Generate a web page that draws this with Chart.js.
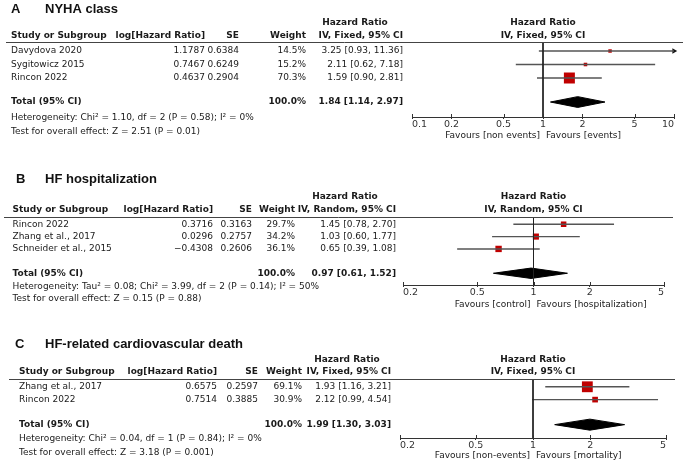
<!DOCTYPE html>
<html>
<head>
<meta charset="utf-8">
<script src="https://cdn.jsdelivr.net/npm/chart.js@4/dist/chart.umd.min.js"></script>
<style>
  html, body { margin: 0; padding: 0; background: #fff; }
  #wrap { position: relative; width: 685px; height: 464px; overflow: hidden; }
  canvas { position: absolute; left: 0; }
</style>
</head>
<body>
<div id="wrap">
  <canvas id="chartA" width="685" height="140" style="top:0px"></canvas>
  <canvas id="chartB" width="685" height="170" style="top:140px"></canvas>
  <canvas id="chartC" width="685" height="154" style="top:310px"></canvas>
</div>
<script>
// ---- Panel A: NYHA class ----
const studiesA = ['Davydova 2020', 'Sygitowicz 2015', 'Rincon 2022'];
const logHrA = ['1.1787', '0.7467', '0.4637'];
const seA = ['0.6384', '0.6249', '0.2904'];
const weightA = [14.5, 15.2, 70.3];
const hrA = [3.25, 2.11, 1.59];
const lowerA = [0.93, 0.62, 0.90];
const upperA = [11.36, 7.18, 2.81];
const totalA = [1.84, 1.14, 2.97]; // estimate, lower, upper
const ticksA = [0.1, 0.2, 0.5, 1, 2, 5, 10];

// ---- Panel B: HF hospitalization ----
const studiesB = ['Rincon 2022', 'Zhang et al., 2017', 'Schneider et al., 2015'];
const logHrB = ['0.3716', '0.0296', '\u22120.4308'];
const seB = ['0.3163', '0.2757', '0.2606'];
const weightB = [29.7, 34.2, 36.1];
const hrB = [1.45, 1.03, 0.65];
const lowerB = [0.78, 0.60, 0.39];
const upperB = [2.70, 1.77, 1.08];
const totalB = [0.97, 0.61, 1.52];
const ticksB = [0.2, 0.5, 1, 2, 5];

// ---- Panel C: HF-related cardiovascular death ----
const studiesC = ['Zhang et al., 2017', 'Rincon 2022'];
const logHrC = ['0.6575', '0.7514'];
const seC = ['0.2597', '0.3885'];
const weightC = [69.1, 30.9];
const hrC = [1.93, 2.12];
const lowerC = [1.16, 0.99];
const upperC = [3.21, 4.54];
const totalC = [1.99, 1.30, 3.03];
const ticksC = [0.2, 0.5, 1, 2, 5];

const FONT = '"DejaVu Sans", sans-serif';
const TITLE_FONT = 'bold 13px "Liberation Sans", Arial, sans-serif';
const TEXT_COLOR = '#1a1a1a';
const SQUARE_RED = '#c00000';

const fmt2 = v => v.toFixed(2);
const ciText = (e, lo, hi) => `${fmt2(e)} [${fmt2(lo)}, ${fmt2(hi)}]`;

function makePanel(canvasId, p) {
  const n = p.studies.length;
  const axisMin = p.ticks[0];
  const axisMax = p.ticks[p.ticks.length - 1];
  const half = p.diamondHalf;
  const T = p.totalRow;

  const datasets = [];
  // line of no effect
  datasets.push({
    data: [{x: 1, y: p.yMin}, {x: 1, y: p.yMax}],
    borderColor: '#222', borderWidth: 1, pointRadius: 0
  });
  // confidence intervals
  for (let i = 0; i < n; i++) {
    datasets.push({
      data: [{x: p.lower[i], y: i}, {x: p.upper[i], y: i}],
      borderColor: '#555', borderWidth: 1.4, pointRadius: 0
    });
  }
  // arrows for intervals running off the axis
  const arrows = [];
  p.upper.forEach((u, i) => { if (u > axisMax) arrows.push({x: axisMax, y: i}); });
  datasets.push({
    data: arrows, showLine: false, pointStyle: 'triangle', rotation: 90,
    pointRadius: 3.2, backgroundColor: '#111', borderWidth: 0, clip: false
  });
  // study squares (size follows weight)
  datasets.push({
    data: p.hr.map((v, i) => ({x: v, y: i})),
    showLine: false, pointStyle: 'rect',
    pointRadius: p.weight.map(w => (1.5 + 0.135 * w) / Math.SQRT2),
    backgroundColor: SQUARE_RED, borderWidth: 0
  });
  // pooled diamond
  datasets.push({
    data: [
      {x: p.total[1], y: T}, {x: p.total[0], y: T - half},
      {x: p.total[2], y: T}, {x: p.total[0], y: T + half},
      {x: p.total[1], y: T}
    ],
    borderColor: '#000', backgroundColor: '#000', borderWidth: 1,
    pointRadius: 0, fill: 'shape', tension: 0
  });

  const tablePlugin = {
    id: 'table' + canvasId,
    afterDraw(chart) {
      const {ctx, chartArea} = chart;
      const xs = chart.scales.x, ys = chart.scales.y;
      const reg = '9px ' + FONT, bold = 'bold 9px ' + FONT;
      const text = (s, x, y, align, font) => {
        ctx.font = font; ctx.textAlign = align; ctx.textBaseline = 'middle';
        ctx.fillStyle = TEXT_COLOR; ctx.fillText(s, x, y);
      };
      ctx.save();
      // header rule
      ctx.strokeStyle = '#444'; ctx.lineWidth = 1;
      ctx.beginPath();
      ctx.moveTo(p.ruleLeft, Math.round(chartArea.top) + 0.5);
      ctx.lineTo(p.ruleRight, Math.round(chartArea.top) + 0.5);
      ctx.stroke();
      // small tick marks above the axis
      ctx.strokeStyle = '#333';
      p.ticks.forEach(v => {
        const px = Math.round(xs.getPixelForValue(v)) + 0.5;
        ctx.beginPath(); ctx.moveTo(px, chartArea.bottom - 3); ctx.lineTo(px, chartArea.bottom); ctx.stroke();
      });

      // title
      ctx.font = TITLE_FONT; ctx.textAlign = 'left'; ctx.textBaseline = 'middle'; ctx.fillStyle = '#111';
      ctx.fillText(p.letter, p.letterX, p.titleY);
      ctx.fillText(p.title, 45, p.titleY);

      // column headers
      const c = p.cols;
      text('Hazard Ratio', c.hrHdr, p.hdr1Y, 'center', bold);
      text('Study or Subgroup', c.study, p.hdr2Y, 'left', bold);
      text('log[Hazard Ratio]', c.log, p.hdr2Y, 'right', bold);
      text('SE', c.se, p.hdr2Y, 'right', bold);
      text('Weight', c.wt, p.hdr2Y, 'right', bold);
      text(p.method, c.ci, p.hdr2Y, 'right', bold);
      const x1 = xs.getPixelForValue(1);
      text('Hazard Ratio', x1, p.hdr1Y, 'center', bold);
      text(p.method, x1, p.hdr2Y, 'center', bold);

      // study rows
      for (let i = 0; i < n; i++) {
        const yy = ys.getPixelForValue(i);
        text(p.studies[i], c.study, yy, 'left', reg);
        text(p.logHr[i], c.log, yy, 'right', reg);
        text(p.se[i], c.se, yy, 'right', reg);
        text(p.weight[i].toFixed(1) + '%', c.wt, yy, 'right', reg);
        text(ciText(p.hr[i], p.lower[i], p.upper[i]), c.ci, yy, 'right', reg);
      }
      // total row
      const ty = ys.getPixelForValue(T);
      text('Total (95% CI)', c.study, ty, 'left', bold);
      text('100.0%', c.wt, ty, 'right', bold);
      text(ciText(p.total[0], p.total[1], p.total[2]), c.ci, ty, 'right', bold);
      text(p.hetero, c.study, p.heteroY, 'left', reg);
      text(p.overall, c.study, p.overallY, 'left', reg);

      // favours labels
      text(p.favours[0], x1 - 3, p.favY, 'right', reg);
      text(p.favours[1], x1 + 3, p.favY, 'left', reg);
      ctx.restore();
    }
  };

  return new Chart(document.getElementById(canvasId), {
    type: 'line',
    data: {datasets},
    options: {
      responsive: false,
      animation: false,
      events: [],
      layout: {padding: {left: p.plotLeft, right: 685 - p.plotRight, top: p.lineTop, bottom: p.padBottom}},
      plugins: {legend: {display: false}, tooltip: {enabled: false}},
      scales: {
        x: {
          type: 'logarithmic', position: 'bottom', min: axisMin, max: axisMax,
          afterBuildTicks: s => { s.ticks = p.ticks.map(v => ({value: v})); },
          afterFit: s => { s.height = 13; },
          ticks: {
            callback: v => String(v), align: 'inner', autoSkip: false, maxRotation: 0,
            padding: 0, color: '#333', font: {family: FONT, size: 9.5}
          },
          grid: {drawOnChartArea: false, drawTicks: true, tickLength: 2, color: '#333'},
          border: {color: '#333', width: 1}
        },
        y: {type: 'linear', reverse: true, min: p.yMin, max: p.yMax, display: false}
      }
    },
    plugins: [tablePlugin]
  });
}

// Panel A: canvas top 0
makePanel('chartA', {
  studies: studiesA, logHr: logHrA, se: seA, weight: weightA, hr: hrA,
  lower: lowerA, upper: upperA, total: totalA, ticks: ticksA,
  letter: 'A', title: 'NYHA class', method: 'IV, Fixed, 95% CI',
  hetero: 'Heterogeneity: Chi\u00b2 = 1.10, df = 2 (P = 0.58); I\u00b2 = 0%',
  overall: 'Test for overall effect: Z = 2.51 (P = 0.01)',
  favours: ['Favours [non events]', 'Favours [events]'],
  plotLeft: 412, plotRight: 674, lineTop: 42, padBottom: 10,
  yMin: -0.667, yMax: 4.889, totalRow: 3.78, diamondHalf: 0.4,
  ruleLeft: 6, ruleRight: 683,
  letterX: 11, titleY: 9, hdr1Y: 23, hdr2Y: 36, heteroY: 118, overallY: 132, favY: 136,
  cols: {study: 11, log: 205, se: 239, wt: 306, ci: 403, hrHdr: 355}
});

// Panel B: canvas top 140
makePanel('chartB', {
  studies: studiesB, logHr: logHrB, se: seB, weight: weightB, hr: hrB,
  lower: lowerB, upper: upperB, total: totalB, ticks: ticksB,
  letter: 'B', title: 'HF hospitalization', method: 'IV, Random, 95% CI',
  hetero: 'Heterogeneity: Tau\u00b2 = 0.08; Chi\u00b2 = 3.99, df = 2 (P = 0.14); I\u00b2 = 50%',
  overall: 'Test for overall effect: Z = 0.15 (P = 0.88)',
  favours: ['Favours [control]', 'Favours [hospitalization]'],
  plotLeft: 403, plotRight: 664, lineTop: 77, padBottom: 12,
  yMin: -0.585, yMax: 4.92, totalRow: 3.97, diamondHalf: 0.42,
  ruleLeft: 4, ruleRight: 673,
  letterX: 16, titleY: 39, hdr1Y: 57, hdr2Y: 70, heteroY: 147, overallY: 159, favY: 165,
  cols: {study: 12.5, log: 213, se: 252, wt: 295, ci: 396, hrHdr: 345}
});

// Panel C: canvas top 310
makePanel('chartC', {
  studies: studiesC, logHr: logHrC, se: seC, weight: weightC, hr: hrC,
  lower: lowerC, upper: upperC, total: totalC, ticks: ticksC,
  letter: 'C', title: 'HF-related cardiovascular death', method: 'IV, Fixed, 95% CI',
  hetero: 'Heterogeneity: Chi\u00b2 = 0.04, df = 1 (P = 0.84); I\u00b2 = 0%',
  overall: 'Test for overall effect: Z = 3.18 (P = 0.001)',
  favours: ['Favours [non-events]', 'Favours [mortality]'],
  plotLeft: 400, plotRight: 666, lineTop: 69, padBottom: 13,
  yMin: -0.606, yMax: 3.99, totalRow: 2.95, diamondHalf: 0.43,
  ruleLeft: 9, ruleRight: 675,
  letterX: 15, titleY: 34, hdr1Y: 50, hdr2Y: 62, heteroY: 129, overallY: 143, favY: 146,
  cols: {study: 19, log: 217, se: 258, wt: 302, ci: 391, hrHdr: 347}
});
</script>
</body>
</html>
